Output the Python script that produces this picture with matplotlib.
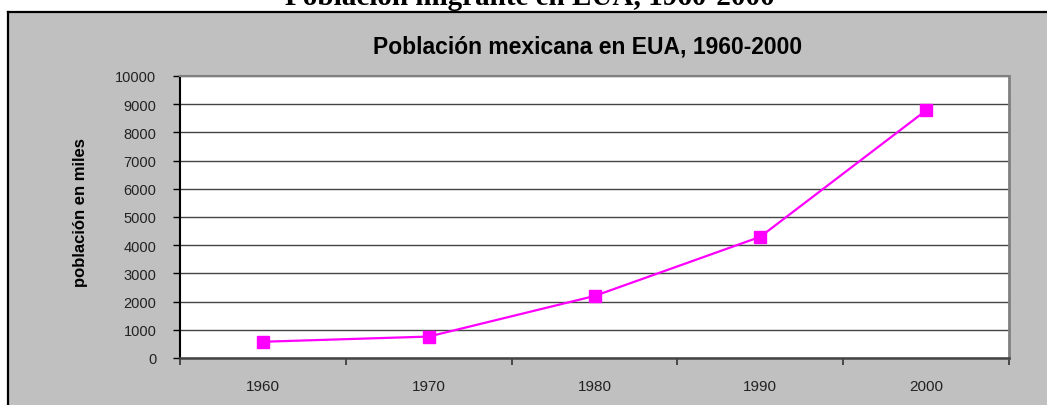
import matplotlib
matplotlib.use("Agg")
import matplotlib.pyplot as plt
from matplotlib.patches import Rectangle
from matplotlib.lines import Line2D

years = ["1960", "1970", "1980", "1990", "2000"]
poblacion = [576, 760, 2199, 4298, 8780]
y_ticks = [0, 1000, 2000, 3000, 4000, 5000, 6000, 7000, 8000, 9000, 10000]

W, H = 1047, 406
fig = plt.figure(figsize=(W / 100, H / 100), dpi=100)
fig.patch.set_facecolor("white")

# gray chart area with black top/left border
fig.patches.append(Rectangle((8 / W, 0), 1 - 8 / W, 1 - 13 / H, transform=fig.transFigure,
                             facecolor="#C0C0C0", edgecolor="none", zorder=-5))
fig.lines.append(Line2D([8 / W, 8 / W], [0, 1 - 13 / H], transform=fig.transFigure,
                        color="black", lw=1.6, zorder=-4))
fig.lines.append(Line2D([8 / W, 1], [1 - 13 / H, 1 - 13 / H], transform=fig.transFigure,
                        color="black", lw=1.6, zorder=-4))

# cut-off heading at very top (as in the reference)
fig.text(530 / W, 1 - 5 / H, "Población migrante en EUA, 1960-2000", ha="center", va="baseline",
         fontsize=21, fontweight="bold", family="Liberation Serif")

ax = fig.add_axes([180 / W, 1 - 359 / H, (1009 - 180) / W, (359 - 77) / H])
ax.set_zorder(2)
ax.set_facecolor("white")
x = list(range(len(years)))
ax.plot(x, poblacion, color="#FF00FF", lw=1.6, marker="s", ms=9, mec="#FF00FF", mfc="#FF00FF",
        clip_on=False, zorder=3)

ax.set_xlim(-0.5, len(years) - 0.5)
ax.set_ylim(0, 10000)
ax.set_yticks(y_ticks)
ax.set_yticklabels([str(v) for v in y_ticks], family="Liberation Sans", fontsize=10.5, color="#222222")
ax.yaxis.grid(True, color="#444444", lw=1)
ax.set_axisbelow(True)
ax.tick_params(axis="y", length=5, width=1, pad=12, color="black")

ax.set_xticks(x)
ax.set_xticklabels(years, family="Liberation Sans", fontsize=11, color="#222222")
ax.set_xticks([i - 0.5 for i in range(len(years) + 1)], minor=True)
ax.tick_params(axis="x", which="major", length=0, pad=15)
ax.tick_params(axis="x", which="minor", length=5, width=1.2, color="#333333")

ax.spines["left"].set_color("black")
ax.spines["left"].set_linewidth(1.5)
ax.spines["bottom"].set_color("#444444")
ax.spines["bottom"].set_linewidth(1.8)
ax.spines["top"].set_color("#808080")
ax.spines["top"].set_linewidth(1.5)
ax.spines["right"].set_color("#808080")
ax.spines["right"].set_linewidth(2)

fig.text(588 / W, 1 - 47 / H, "Población mexicana en EUA, 1960-2000", ha="center", va="center",
         fontsize=16.5, fontweight="bold", family="Liberation Sans")
fig.text(80 / W, 1 - 213 / H, "población en miles", ha="center", va="center", rotation=90,
         fontsize=12, fontweight="bold", family="Liberation Sans")

fig.savefig("out.png", dpi=100)
